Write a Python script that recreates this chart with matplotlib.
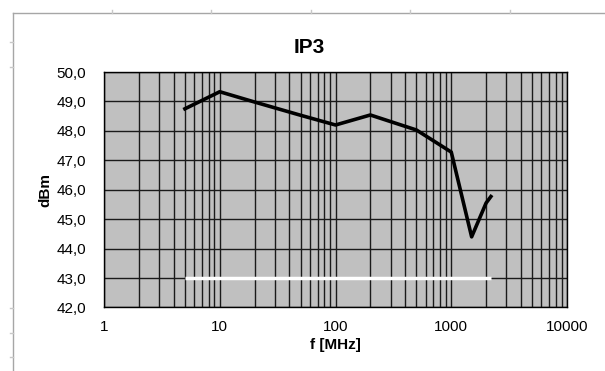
import matplotlib
matplotlib.use("Agg")
import matplotlib.pyplot as plt
from matplotlib.lines import Line2D
from matplotlib.ticker import FixedLocator, FuncFormatter, NullFormatter

freq_mhz = [5, 10, 20, 50, 100, 200, 500, 1000, 1500, 2000, 2200]
ip3_dbm = [48.75, 49.33, 48.98, 48.53, 48.2, 48.54, 48.03, 47.28, 44.4, 45.55, 45.77]

# spec limit line
spec_freq = [5, 2200]
spec_dbm = [43.0, 43.0]

x_ticks = [1, 10, 100, 1000, 10000]
x_minor = [m * d for d in [1, 10, 100, 1000] for m in range(2, 10)]
y_ticks = [42, 43, 44, 45, 46, 47, 48, 49, 50]

plt.rcParams["font.family"] = ["Liberation Sans", "DejaVu Sans"]

fig = plt.figure(figsize=(6.05, 3.71), dpi=100)
ax = fig.add_axes([0.1719, 0.1712, 0.7653, 0.6347])
ax.set_facecolor("#c0c0c0")

ax.set_xscale("log")
ax.set_xlim(1, 10000)
ax.set_ylim(42, 50)

ax.xaxis.set_major_locator(FixedLocator(x_ticks))
ax.xaxis.set_minor_locator(FixedLocator(x_minor))
ax.xaxis.set_minor_formatter(NullFormatter())
ax.xaxis.set_major_formatter(FuncFormatter(lambda v, p: f"{v:.0f}"))
ax.yaxis.set_major_locator(FixedLocator(y_ticks))
ax.yaxis.set_major_formatter(FuncFormatter(lambda v, p: f"{v:.1f}".replace(".", ",")))

ax.grid(True, which="both", axis="x", color="#1a1a1a", linewidth=1.0)
ax.grid(True, which="major", axis="y", color="#1a1a1a", linewidth=1.0)
ax.set_axisbelow(True)

ax.tick_params(which="both", length=0, labelsize=11, colors="black")
ax.tick_params(axis="y", pad=13)
ax.tick_params(axis="x", pad=9)

for s in ax.spines.values():
    s.set_color("black")
    s.set_linewidth(1.0)

ax.plot(spec_freq, spec_dbm, color="white", linewidth=2.5, solid_capstyle="butt")
ax.plot(freq_mhz, ip3_dbm, color="black", linewidth=2.6)

ax.set_xlabel("f [MHz]", fontsize=11, fontweight="bold", labelpad=3)
ax.set_ylabel("dBm", fontsize=11, fontweight="bold", labelpad=3)
fig.text(0.511, 0.873, "IP3", fontsize=15, fontweight="bold", ha="center", va="center")

# spreadsheet border remnants at top/left edge
fig.add_artist(Line2D([13 / 605, 1], [1 - 13 / 371] * 2, color="#a6a6a6", linewidth=1.0,
                      transform=fig.transFigure))
fig.add_artist(Line2D([13 / 605] * 2, [0, 1 - 13 / 371], color="#a6a6a6", linewidth=1.0,
                      transform=fig.transFigure))
for tx in [112, 211, 311, 410, 510]:
    fig.add_artist(Line2D([tx / 605] * 2, [1 - 13 / 371, 1 - 10 / 371], color="#c8c8c8",
                          linewidth=1.0, transform=fig.transFigure))
for ty in [42, 67, 308, 333, 357]:
    fig.add_artist(Line2D([10 / 605, 13 / 605], [1 - ty / 371] * 2, color="#c8c8c8",
                          linewidth=1.0, transform=fig.transFigure))

fig.savefig("out.png", dpi=100, facecolor="white")
